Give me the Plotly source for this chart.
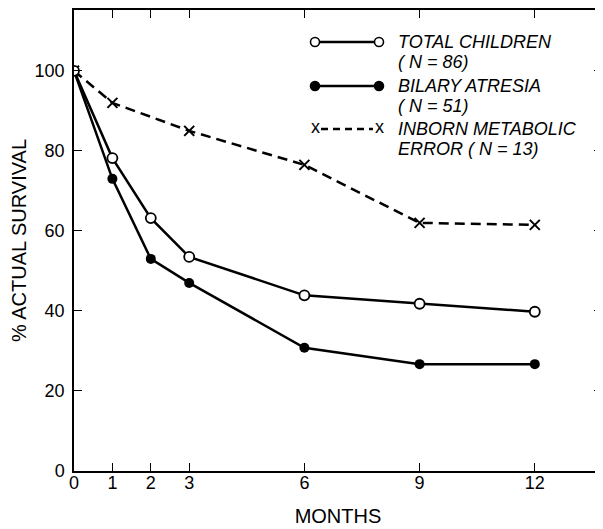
import plotly.graph_objects as go

months = [0, 1, 2, 3, 6, 9, 12]
total_children = [100, 78.2, 63.2, 53.5, 43.9, 41.8, 39.8]
biliary_atresia = [100, 73, 53, 47, 30.8, 26.7, 26.7]
inborn_months = [0, 1, 3, 6, 9, 12]
inborn_error = [100, 92, 85, 76.5, 62, 61.5]

x_ticks = [0, 1, 2, 3, 6, 9, 12]
y_ticks = [0, 20, 40, 60, 80, 100]

OFF = 8  # page body margin
W, H = 603 - OFF, 529 - OFF
# plot area in screenshot pixels: left 74, right 602, top 10, bottom 471
ML, MR, MT, MB = 74 - OFF, W - (602 - OFF), 10 - OFF, H - (471 - OFF)
PW, PH = W - ML - MR, H - MT - MB

def px(x):
    return (x - OFF - ML) / PW

def py(y):
    return (H - MB - (y - OFF)) / PH

FONT = "Liberation Sans, Arial, Helvetica, sans-serif"

fig = go.Figure()
fig.add_trace(go.Scatter(x=months, y=biliary_atresia, mode="lines+markers",
                         name="BILARY ATRESIA (N = 51)",
                         line=dict(color="black", width=2.5),
                         marker=dict(symbol="circle", size=10, color="black")))
fig.add_trace(go.Scatter(x=inborn_months, y=inborn_error, mode="lines+markers",
                         name="INBORN METABOLIC ERROR (N = 13)",
                         line=dict(color="black", width=2.5, dash="10px,6px"),
                         marker=dict(symbol="x-thin", size=10,
                                     line=dict(color="black", width=2))))
fig.add_trace(go.Scatter(x=months, y=total_children, mode="lines+markers",
                         name="TOTAL CHILDREN (N = 86)",
                         line=dict(color="black", width=2.5),
                         marker=dict(symbol="circle", size=10, color="white",
                                     line=dict(color="black", width=1.8))))

# custom legend (decoration)
shapes = []
annotations = []
rows = [
    (42, "TOTAL CHILDREN", "( N = 86)", "open"),
    (86, "BILARY ATRESIA", "( N = 51)", "filled"),
    (129, "INBORN METABOLIC", "ERROR ( N = 13)", "x"),
]
x0, x1 = 315, 379
LFS = 18
for yrow, t1, t2, kind in rows:
    dash = "7px,5px" if kind == "x" else "solid"
    lx0, lx1 = (x0 + 6, x1 - 6) if kind == "x" else (x0, x1)
    shapes.append(dict(type="line", xref="paper", yref="paper",
                       x0=px(lx0), x1=px(lx1), y0=py(yrow), y1=py(yrow),
                       line=dict(color="black", width=2.5, dash=dash)))
    for xc in (x0, x1):
        if kind == "x":
            annotations.append(dict(xref="paper", yref="paper", x=px(xc), y=py(yrow),
                                    text="x", showarrow=False,
                                    font=dict(family=FONT, size=18, color="black"),
                                    xanchor="center", yanchor="middle", yshift=2))
        else:
            r = 4.5
            shapes.append(dict(type="circle", xref="paper", yref="paper",
                               x0=px(xc - r), x1=px(xc + r), y0=py(yrow - r), y1=py(yrow + r),
                               fillcolor="white" if kind == "open" else "black",
                               line=dict(color="black", width=1.6)))
    annotations.append(dict(xref="paper", yref="paper", x=px(396), y=py(yrow),
                            text="<i>" + t1 + "</i>", showarrow=False, xanchor="left",
                            yanchor="middle",
                            font=dict(family=FONT, size=LFS, color="black")))
    annotations.append(dict(xref="paper", yref="paper", x=px(396), y=py(yrow + 20),
                            text="<i>" + t2 + "</i>", showarrow=False, xanchor="left",
                            yanchor="middle",
                            font=dict(family=FONT, size=LFS, color="black")))

fig.update_layout(
    width=W, height=H,
    margin=dict(l=ML, r=MR, t=MT, b=MB, autoexpand=False),
    plot_bgcolor="white", paper_bgcolor="white",
    showlegend=False,
    font=dict(family=FONT, size=18, color="black"),
    shapes=shapes, annotations=annotations,
    xaxis=dict(range=[0, 13.75], tickvals=x_ticks, ticktext=[str(v) for v in x_ticks],
               ticks="inside", ticklen=8, tickwidth=1.2, tickcolor="black",
               showline=True, linecolor="black", linewidth=1.5, mirror="ticks",
               showgrid=False, zeroline=False, automargin=False,
               tickfont=dict(size=18), ticklabelstandoff=-5,
               title=dict(text="MONTHS", standoff=17, font=dict(size=20))),
    yaxis=dict(range=[0, 115.2], tickvals=y_ticks,
               ticks="inside", ticklen=8, tickwidth=1.2, tickcolor="black",
               showline=True, linecolor="black", linewidth=1.5, mirror="ticks",
               showgrid=False, zeroline=False, automargin=False,
               tickfont=dict(size=18), ticklabelstandoff=4,
               title=dict(text="% ACTUAL SURVIVAL", standoff=5, font=dict(size=20))),
)

fig.write_html("out.html")
